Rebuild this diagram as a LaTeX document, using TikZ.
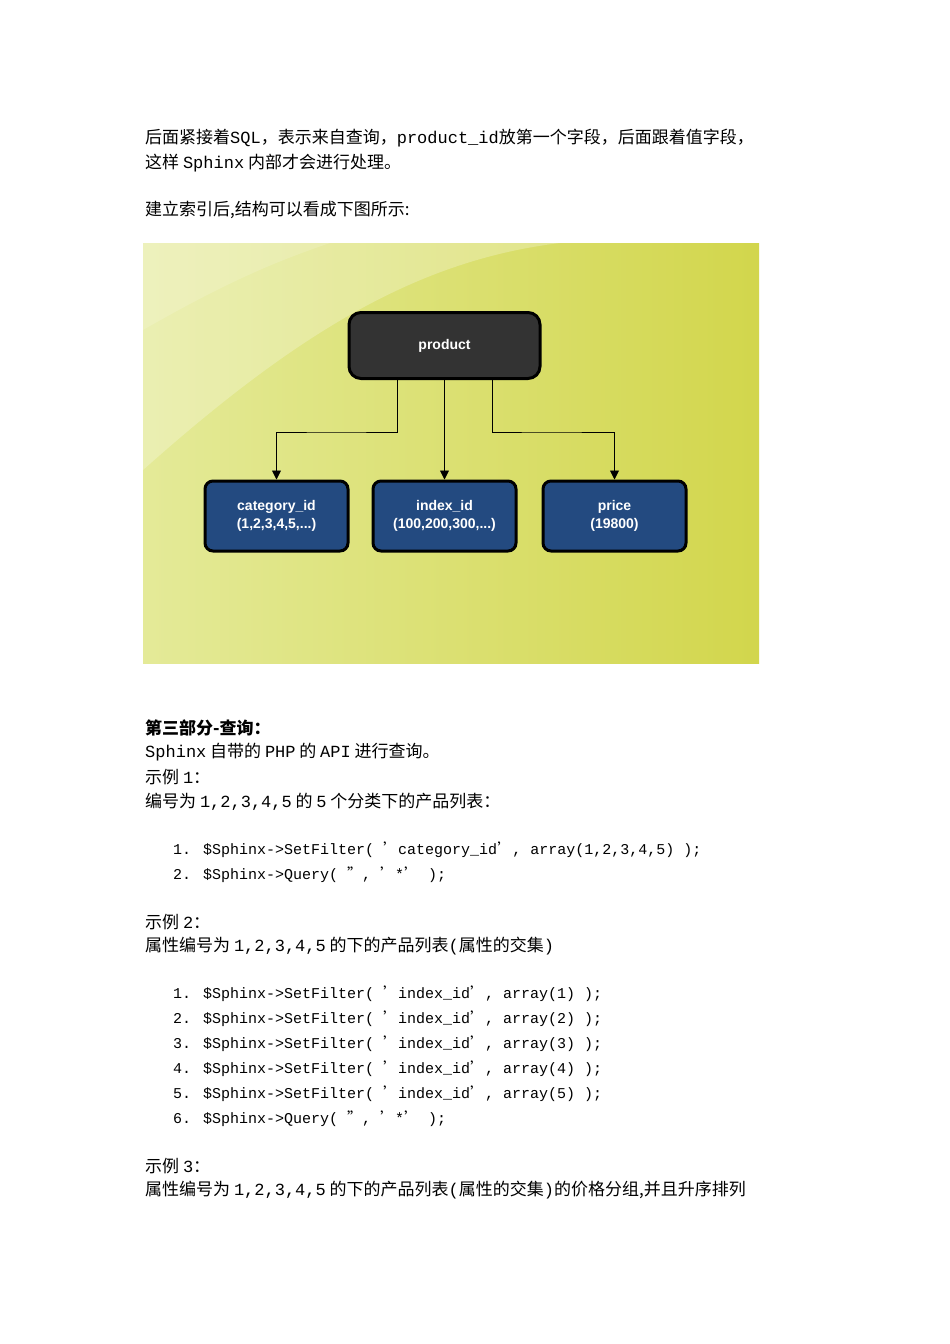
\documentclass[tikz,border=0pt]{standalone}
\usepackage{fontspec}
\setmainfont{Noto Sans CJK SC}
\newfontfamily\cjkb{Noto Sans CJK SC}[BoldFont={Noto Sans CJK SC Bold}]
\newfontfamily\lat{Liberation Mono}
\newfontfamily\arl{Liberation Sans}
\usetikzlibrary{arrows.meta}
\begin{document}
\begin{tikzpicture}[x=1pt,y=-1pt,
  txt/.style={anchor=west,inner sep=0pt,font=\fontsize{17}{20}\selectfont},
  code/.style={anchor=west,inner sep=0pt,font=\lat\fontsize{15}{18}\selectfont},
  child/.style={draw=black,line width=3pt,rounded corners=8pt,fill=boxblue,minimum width=143pt,minimum height=70pt,align=center,text=white,font=\arl\bfseries\fontsize{14}{18}\selectfont},
  conn/.style={line width=0.9pt,-{Triangle[length=9pt,width=9pt]}}]
\definecolor{boxblue}{HTML}{234A80}
\definecolor{bgA}{HTML}{E4EA98}
\definecolor{bgB}{HTML}{D2D64C}
\useasboundingbox (0,0) rectangle (950,1344);
\fill[white] (0,0) rectangle (950,1344);
\node[txt] (t1) at (145,138) {后面紧接着{\lat SQL}，表示来自查询，{\lat product\_id}放第一个字段，后面跟着值字段，};
\node[txt] (t2) at (145,163) {这样 {\lat Sphinx} 内部才会进行处理。};
\node[txt] (t3) at (145,210) {建立索引后,结构可以看成下图所示:};
% diagram background
\shade[left color=bgA,right color=bgB] (143,243) rectangle (759,663);
\fill[white,opacity=0.25] (143,243) -- (143,470) .. controls (300,330) and (420,260) .. (560,243) -- cycle;
\fill[white,opacity=0.15] (143,243) -- (143,330) .. controls (230,280) and (280,260) .. (330,243) -- cycle;
\node[draw=black,line width=3pt,rounded corners=12pt,fill=black!80,minimum width=191pt,minimum height=66pt,text=white,font=\arl\bfseries\fontsize{14}{18}\selectfont] (prod) at (444.5,345.5) {product};
\node[child] (cat) at (276.5,516) {category\_id\\(1,2,3,4,5,...)};
\node[child] (idx) at (444.5,516) {index\_id\\(100,200,300,...)};
\node[child] (pri) at (614.5,516) {price\\(19800)};
\draw[conn] ([xshift=-47.5pt]prod.south) |- (336,432) -| (cat.north);
\draw[conn] (prod.south) -- (idx.north);
\draw[conn] ([xshift=47.5pt]prod.south) |- (550,432) -| (pri.north);
\node[txt,font=\bfseries\fontsize{17}{20}\selectfont] (h) at (145,728) {第三部分-查询：};
\node[txt] (t4) at (145,752) {{\lat Sphinx} 自带的 {\lat PHP} 的 {\lat API} 进行查询。};
\node[txt] (t5) at (145,777) {示例 {\lat 1}：};
\node[txt] (t6) at (145,802) {编号为 {\lat 1,2,3,4,5} 的 {\lat 5} 个分类下的产品列表：};
\node[code] (c1) at (173,850) {1. \$Sphinx->SetFilter( {\rmfamily ’}category\_id{\rmfamily ’},  array(1,2,3,4,5) );};
\node[code] (c2) at (173,875) {2. \$Sphinx->Query( {\rmfamily ”}, {\rmfamily ’}*{\rmfamily ’} );};
\node[txt] (t7) at (145,922) {示例 {\lat 2}：};
\node[txt] (t8) at (145,946) {属性编号为 {\lat 1,2,3,4,5} 的下的产品列表{\lat (}属性的交集{\lat )}};
\foreach \i in {1,...,5}{
  \node[code] (d\i) at (173,969+25*\i) {\i. \$Sphinx->SetFilter( {\rmfamily ’}index\_id{\rmfamily ’},  array(\i) );};
}
\node[code] (d6) at (173,1119) {6. \$Sphinx->Query( {\rmfamily ”}, {\rmfamily ’}*{\rmfamily ’} );};
\node[txt] (t9) at (145,1166) {示例 {\lat 3}：};
\node[txt] (t10) at (145,1190) {属性编号为 {\lat 1,2,3,4,5} 的下的产品列表{\lat (}属性的交集{\lat )}的价格分组,并且升序排列};
\end{tikzpicture}
\end{document}
